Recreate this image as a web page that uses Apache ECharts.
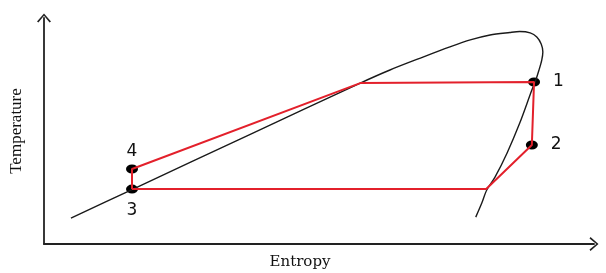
<!DOCTYPE html>
<html>
<head>
  <meta charset="utf-8">
  <title>T-s diagram</title>
  <script src="https://cdn.jsdelivr.net/npm/echarts@6/dist/echarts.min.js"></script>
  <style>
    html, body { margin: 0; padding: 0; background: #fff; }
  </style>
</head>
<body>
  <div id="main" style="width:606px;height:273px;"></div>
  <script>
    // saturation dome (entropy, temperature), arbitrary units 0-100
    var domeS = [4.9, 16.0, 37.5, 57.5, 62.9, 68.9, 73.8, 77.5, 81.1, 84.7, 86.5, 88.4, 89.6, 90.4, 90.7,
                 90.5, 90.0, 89.3, 88.7, 86.5, 84.2, 82.0, 80.5, 79.6, 78.5];
    var domeT = [11.5, 24.1, 48.5, 71.2, 77.0, 82.7, 87.2, 90.3, 92.5, 93.6, 94.0, 93.4, 91.6, 88.5, 85.0,
                 81.4, 77.0, 71.7, 68.1, 53.5, 40.3, 29.6, 23.9, 18.1, 11.9];

    // cycle path 3 -> 4 -> evaporation -> 1 -> 2 -> condensation -> 3
    var cycleS = [16.0, 16.0, 57.5, 89.1, 88.7, 80.4, 16.0];
    var cycleT = [24.3, 33.2, 71.2, 71.7, 43.8, 24.3, 24.3];

    // numbered states
    var stateNames = ['1', '2', '3', '4'];
    var stateS = [89.1, 88.7, 16.0, 16.0];
    var stateT = [71.7, 43.8, 24.3, 33.2];
    var statePos = ['right', 'right', 'bottom', 'top'];
    var stateGap = [13, 13, 8, 4];

    var chart = echarts.init(document.getElementById('main'));

    var arrow = 'path://M7,0 L14,8 L12.6,9 L7,2.2 L1.4,9 L0,8 Z';

    var dome = domeS.map(function (s, i) { return [s, domeT[i]]; });
    var cycle = cycleS.map(function (s, i) { return [s, cycleT[i]]; });
    var states = stateNames.map(function (n, i) {
      return {
        value: [stateS[i], stateT[i]],
        label: {
          show: true,
          formatter: n,
          position: statePos[i],
          distance: stateGap[i]
        }
      };
    });

    var option = {
      animation: false,
      grid: { left: 44, right: 12, top: 18, bottom: 29, containLabel: false, outerBoundsMode: 'none' },
      xAxis: {
        type: 'value', min: 0, max: 100,
        name: 'Entropy',
        nameLocation: 'middle',
        nameGap: 11,
        nameTextStyle: {
          fontFamily: 'DejaVu Serif', fontSize: 15, color: '#111',
          padding: [0, 38, 0, 0]
        },
        axisLine: {
          lineStyle: { color: '#222', width: 1.8 },
          symbol: ['none', arrow], symbolSize: [14, 9]
        },
        axisTick: { show: false },
        axisLabel: { show: false },
        splitLine: { show: false }
      },
      yAxis: {
        type: 'value', min: 0, max: 100,
        name: 'Temperature',
        nameLocation: 'middle',
        nameRotate: 90,
        nameGap: 19,
        nameTextStyle: {
          fontFamily: 'Liberation Serif', fontSize: 17, color: '#111'
        },
        axisLine: {
          lineStyle: { color: '#222', width: 1.8 },
          symbol: ['none', arrow], symbolSize: [14, 9]
        },
        axisTick: { show: false },
        axisLabel: { show: false },
        splitLine: { show: false }
      },
      series: [
        {
          type: 'line',
          data: dome,
          smooth: 0.3,
          symbol: 'none',
          lineStyle: { color: '#1a1a1a', width: 1.4 }
        },
        {
          type: 'line',
          data: cycle,
          symbol: 'none',
          lineStyle: { color: '#e3202b', width: 2 }
        },
        {
          type: 'scatter',
          data: states,
          symbol: 'circle',
          symbolSize: [12, 9],
          itemStyle: { color: '#000', opacity: 1 },
          label: {
            fontFamily: 'DejaVu Sans', fontSize: 17, color: '#111'
          }
        }
      ]
    };

    chart.setOption(option);
  </script>
</body>
</html>
